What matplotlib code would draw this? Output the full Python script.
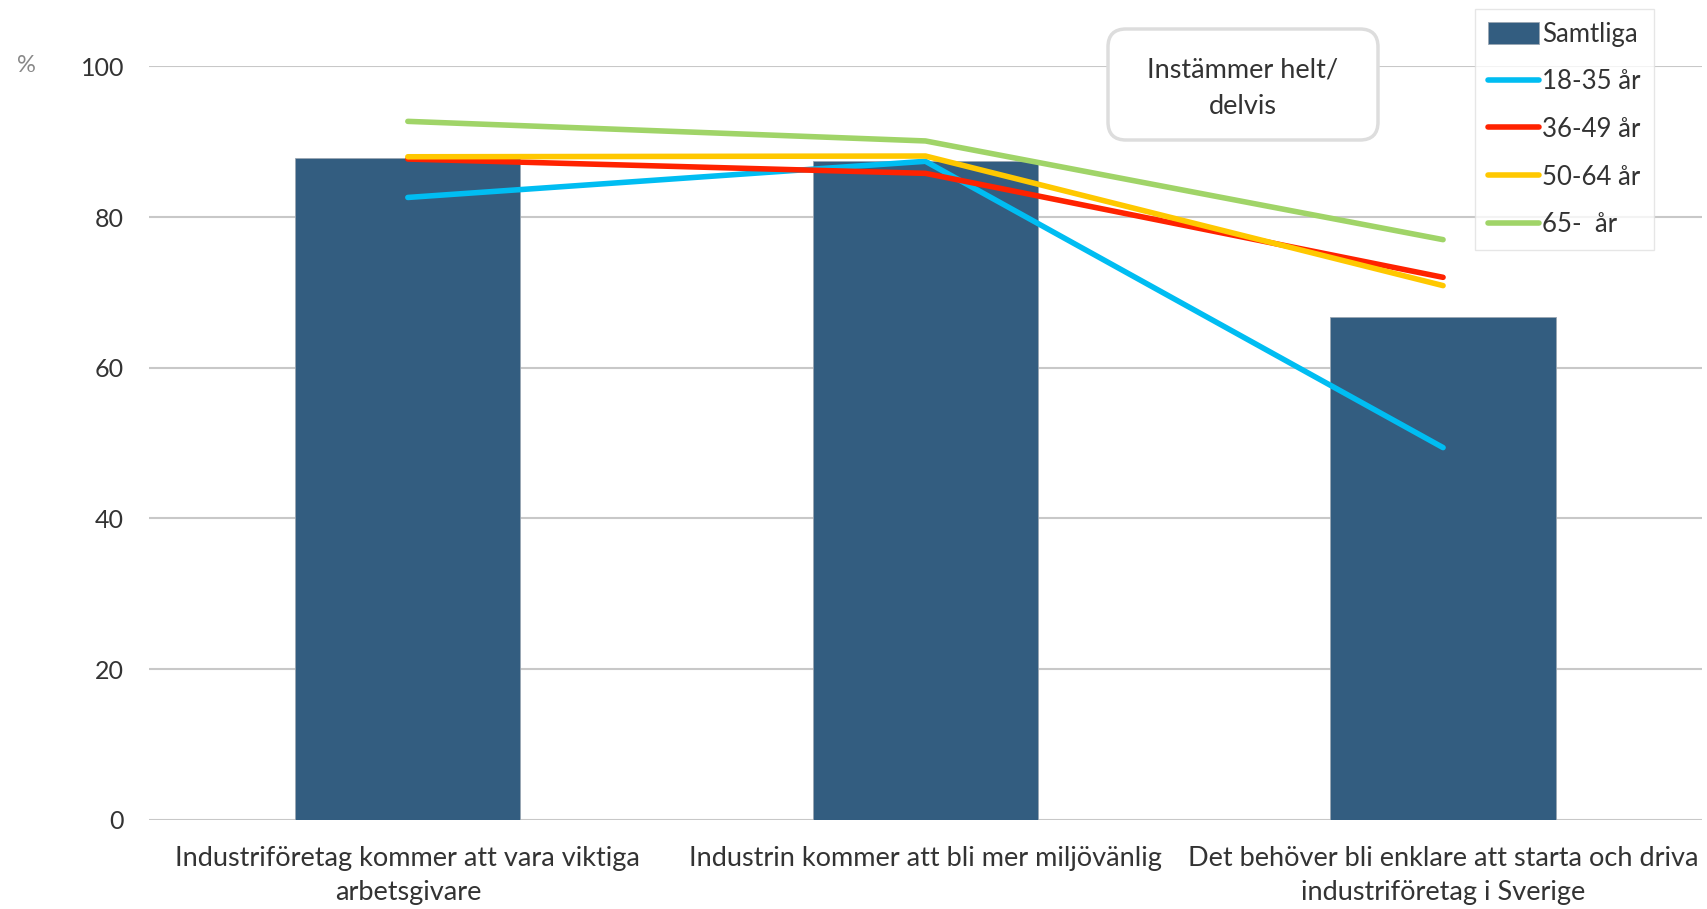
import matplotlib
matplotlib.use("Agg")
import matplotlib.pyplot as plt
from matplotlib.patches import FancyBboxPatch
import numpy as np

categories = ["Industriföretag kommer att vara viktiga\narbetsgivare",
              "Industrin kommer att bli mer miljövänlig",
              "Det behöver bli enklare att starta och driva\nindustriföretag i Sverige"]
samtliga = [87.8, 87.5, 66.7]
age_18_35 = [82.6, 87.4, 49.4]
age_36_49 = [87.7, 85.8, 72.0]
age_50_64 = [88.0, 88.1, 70.9]
age_65 = [92.7, 90.1, 77.0]
yticks = [0, 20, 40, 60, 80, 100]

plt.rcParams['font.family'] = ['Lato', 'DejaVu Sans']

W, H = 1707, 909
fig = plt.figure(figsize=(W / 100, H / 100), dpi=100)
ax = fig.add_axes([0.0873, 0.0981, 0.9097, 0.8289])

x = np.arange(len(categories))
ax.bar(x, samtliga, width=0.435, color="#335D80", edgecolor="#9aa6b2", linewidth=0.6,
       label="Samtliga", zorder=2)
ax.plot(x, age_18_35, color="#00BDF2", lw=4, label="18-35 år", solid_capstyle="round", zorder=3)
ax.plot(x, age_36_49, color="#FF2200", lw=4, label="36-49 år", solid_capstyle="round", zorder=3)
ax.plot(x, age_50_64, color="#FFC800", lw=4, label="50-64 år", solid_capstyle="round", zorder=3)
ax.plot(x, age_65, color="#A0D468", lw=4, label="65-  år", solid_capstyle="round", zorder=3)

ax.set_xlim(-0.5, 2.5)
ax.set_ylim(0, 100)
ax.set_yticks(yticks)
ax.set_yticklabels([str(t) for t in yticks], fontsize=18, color="#333333")
ax.set_xticks(x)
ax.set_xticklabels(categories, fontsize=19.5, color="#333333", linespacing=1.45)
ax.tick_params(axis="both", length=0)
ax.tick_params(axis="y", pad=18)
ax.tick_params(axis="x", pad=19)
for s in ax.spines.values():
    s.set_visible(False)
ax.grid(axis="y", color="#c8c8c8", lw=1.5, zorder=0)
ax.set_axisbelow(True)

fig.text(26 / W, 1 - 66 / H, "%", fontsize=17, color="#888888", ha="center", va="center")

# annotation box (pixel coordinates of the figure)
bx0, bx1, by0, by1 = 1108, 1378, 29, 140
box = FancyBboxPatch((bx0, H - by1), bx1 - bx0, by1 - by0,
                     boxstyle="round,pad=0,rounding_size=18", transform=None,
                     fc="white", ec="#dddddd", lw=2.5, zorder=5)
fig.patches.append(box)
fig.text((bx0 + bx1) / 2 / W, 1 - 88 / H, "Instämmer helt/\ndelvis",
         fontsize=19.5, color="#333333", ha="center", va="center", linespacing=1.55, zorder=6)

handles, labels = ax.get_legend_handles_labels()
order = [labels.index(l) for l in ["Samtliga", "18-35 år", "36-49 år", "50-64 år", "65-  år"]]
leg = ax.legend([handles[i] for i in order], [labels[i] for i in order],
                loc="upper left", bbox_to_anchor=(1475 / W, 1 - 9 / H),
                bbox_transform=fig.transFigure, fontsize=18.5, frameon=True, fancybox=False,
                edgecolor="#e0e0e0", handlelength=2.0, handleheight=0.9, handletextpad=0.12,
                labelspacing=0.88, borderpad=0.5, borderaxespad=0, labelcolor="#333333")
leg.get_frame().set_linewidth(1.0)

fig.savefig("out.png", dpi=100, facecolor="white")
